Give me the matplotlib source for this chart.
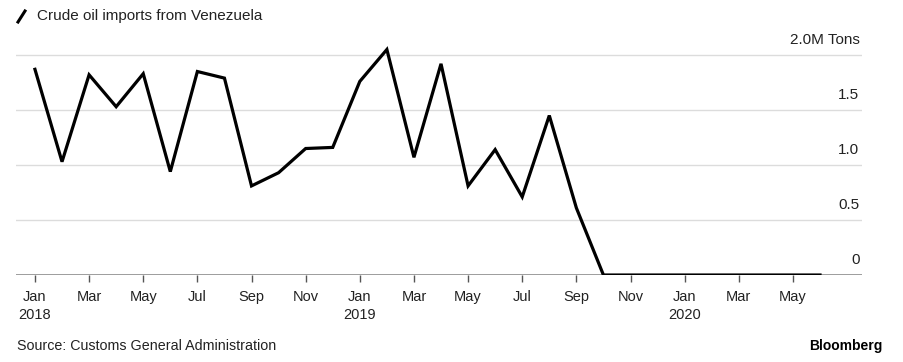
import matplotlib.pyplot as plt
import matplotlib.transforms as mtransforms
from matplotlib.lines import Line2D

plt.rcParams["font.family"] = ["Liberation Sans", "DejaVu Sans"]

# monthly imports, Jan 2018 .. Jun 2020 (million tons)
months = [
    "Jan 2018", "Feb 2018", "Mar 2018", "Apr 2018", "May 2018", "Jun 2018",
    "Jul 2018", "Aug 2018", "Sep 2018", "Oct 2018", "Nov 2018", "Dec 2018",
    "Jan 2019", "Feb 2019", "Mar 2019", "Apr 2019", "May 2019", "Jun 2019",
    "Jul 2019", "Aug 2019", "Sep 2019", "Oct 2019", "Nov 2019", "Dec 2019",
    "Jan 2020", "Feb 2020", "Mar 2020", "Apr 2020", "May 2020", "Jun 2020",
]
imports = [
    1.87, 1.03, 1.82, 1.53, 1.83, 0.94, 1.85, 1.79, 0.81, 0.93, 1.15, 1.16,
    1.76, 2.05, 1.07, 1.92, 0.81, 1.14, 0.71, 1.45, 0.61, 0.0, 0.0, 0.0,
    0.0, 0.0, 0.0, 0.0, 0.0, 0.0,
]
tick_labels = [
    "Jan\n2018", "Mar", "May", "Jul", "Sep", "Nov",
    "Jan\n2019", "Mar", "May", "Jul", "Sep", "Nov",
    "Jan\n2020", "Mar", "May",
]
y_values = [0, 0.5, 1.0, 1.5, 2.0]
y_labels = ["0", "0.5", "1.0", "1.5", "2.0M Tons"]

fig = plt.figure(figsize=(9.04, 3.62), dpi=100)
ax = fig.add_axes([0.0177, 0.2403, 0.9358, 0.6533])

x = list(range(len(months)))
ax.plot(x, imports, color="black", linewidth=2.3, solid_joinstyle="miter", zorder=3)

ax.set_xlim(-0.70, 30.55)
ax.set_ylim(0, 2.15)

for v in y_values[1:]:
    ax.axhline(v, color="#dcdcdc", linewidth=1.0, zorder=1)
ax.axhline(0, color="#8c8c8c", linewidth=1.2, zorder=2)

trans = mtransforms.blended_transform_factory(ax.transAxes, ax.transData)
for v, lab in zip(y_values, y_labels):
    ax.annotate(lab, xy=(0.997, v), xycoords=trans, xytext=(0, 6),
                textcoords="offset points", ha="right", va="bottom",
                fontsize=11, color="#222222")

ax.set_xticks(x[::2])
ax.set_xticklabels(tick_labels, fontsize=10.5, color="#222222", linespacing=1.35)
ax.tick_params(axis="x", length=5, width=1, color="#555555", pad=6)
ax.set_yticks([])
for s in ax.spines.values():
    s.set_visible(False)

# title with slash icon
fig.add_artist(Line2D([18 / 904, 25 / 904], [1 - 22 / 362, 1 - 11 / 362],
                      color="black", linewidth=2.2, transform=fig.transFigure))
fig.text(37 / 904, 1 - 16 / 362, "Crude oil imports from Venezuela",
         fontsize=11, color="#222222", va="center", ha="left")

fig.text(17 / 904, 1 - 346 / 362, "Source: Customs General Administration",
         fontsize=10.3, color="#222222", va="center", ha="left")
fig.text(883 / 904, 1 - 346 / 362, "Bloomberg", fontsize=10, fontweight="bold",
         color="black", va="center", ha="right")

fig.savefig("out.png", dpi=100, facecolor="white")
